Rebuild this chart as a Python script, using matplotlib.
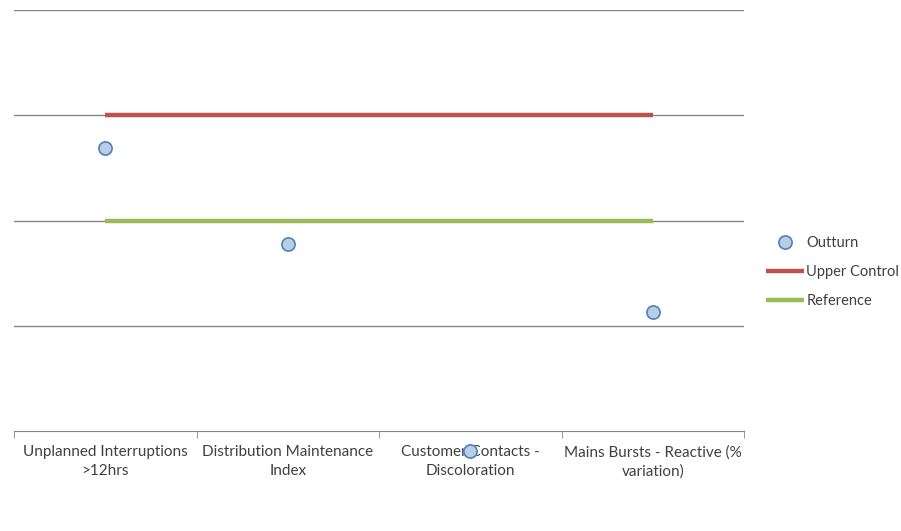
import matplotlib.pyplot as plt
import numpy as np

categories = ["Unplanned Interruptions\n>12hrs", "Distribution Maintenance\nIndex",
              "Customer Contacts -\nDiscoloration", "Mains Bursts - Reactive (%\nvariation)"]
outturn = [2.69, 1.78, -0.19, 1.13]
upper_control = [3, 3, 3, 3]
reference = [2, 2, 2, 2]

plt.rcParams['font.family'] = ['Lato', 'DejaVu Sans']

fig = plt.figure(figsize=(9.01, 5.31), dpi=100)
ax = fig.add_axes([14/901, 1 - 431/531, 730/901, 421/531])

x = np.arange(len(categories))
ax.plot(x, upper_control, color='#C0504D', lw=3.2, solid_capstyle='butt', label='Upper Control', zorder=3)
ax.plot(x, reference, color='#9BBB59', lw=3.2, solid_capstyle='butt', label='Reference', zorder=3)
# outturn markers may sit below the axis, so let them draw outside the plot area
ax.plot(x, outturn, ls='none', marker='o', ms=9.5, mfc='#B9CDE5', mec='#4F81BD', mew=1.2,
        label='Outturn', clip_on=False, zorder=2)

ax.set_xlim(-0.5, 3.5)
ax.set_ylim(0, 4)
ax.set_yticks([1, 2, 3, 4])
ax.yaxis.grid(True, color='#868686', lw=1)
ax.set_axisbelow(True)
ax.tick_params(axis='y', left=False, labelleft=False)

ax.set_xticks(x)
ax.set_xticklabels(categories, fontsize=11, color='#404040', linespacing=1.45)
ax.set_xticks(np.arange(-0.5, 4, 1), minor=True)
ax.tick_params(axis='x', which='major', length=0, pad=10)
ax.tick_params(axis='x', which='minor', length=5, color='#868686', direction='out')

for s in ['top', 'left', 'right']:
    ax.spines[s].set_visible(False)
ax.spines['bottom'].set_color('#868686')

h, l = ax.get_legend_handles_labels()
order = [2, 0, 1]
fig.legend([h[i] for i in order], [l[i] for i in order], loc='center left',
           bbox_to_anchor=(753/901, 1 - 272/531), frameon=False, fontsize=10.5,
           handlelength=2.6, handletextpad=0.15, labelspacing=1.05, labelcolor='#404040')

fig.savefig('out.png', dpi=100)
